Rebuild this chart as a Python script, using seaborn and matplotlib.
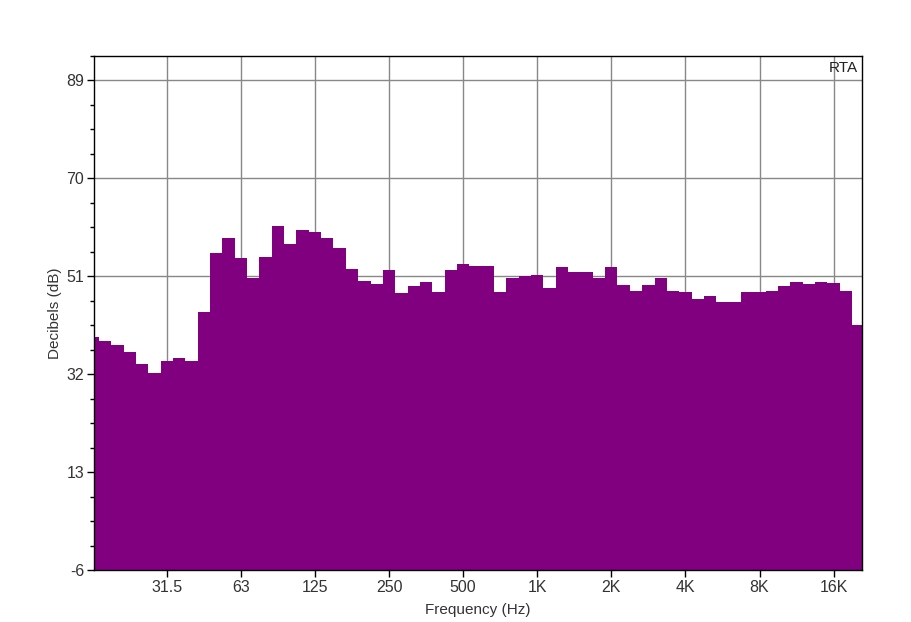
import numpy as np
import matplotlib
matplotlib.use("Agg")
import matplotlib.pyplot as plt
import seaborn as sns
from matplotlib.ticker import FixedLocator, NullLocator

# 1/6-octave bands, index 0 = 1 kHz, levels (dB)
band_index = list(range(-36, 27))
levels_db = [
    39.2, 38.5, 37.7, 36.2, 33.9, 32.3, 34.6, 35.2, 34.6, 44.0,
    55.5, 58.3, 54.5, 50.7, 54.8, 60.7, 57.2, 59.9, 59.6, 58.3,
    56.4, 52.3, 50.0, 49.4, 52.1, 47.7, 49.0, 49.9, 47.9, 52.1,
    53.3, 52.9, 52.9, 47.9, 50.6, 51.0, 51.3, 48.7, 52.8, 51.7,
    51.7, 50.7, 52.8, 49.2, 48.2, 49.2, 50.6, 48.2, 48.0, 46.5,
    47.1, 46.0, 46.0, 48.0, 48.0, 48.2, 49.0, 49.8, 49.4, 49.8,
    49.6, 48.2, 41.6,
]
tick_freqs = [31.25, 62.5, 125, 250, 500, 1000, 2000, 4000, 8000, 16000]
tick_labels = ["31.5", "63", "125", "250", "500", "1K", "2K", "4K", "8K", "16K"]
y_ticks = [-6, 13, 32, 51, 70, 89]

sns.set_theme(style="white")
plt.rcParams['font.family'] = ['Liberation Sans', 'DejaVu Sans']
plt.rcParams['axes.unicode_minus'] = False

fig = plt.figure(figsize=(9.12, 6.22), dpi=100)
ax = fig.add_axes([0.1031, 0.0836, 0.8417, 0.8269])

# band edges on a log2 axis
centers = 1000 * 2 ** (np.array(band_index) / 6)
lo = centers * 2 ** (-1 / 12)
hi = centers * 2 ** (1 / 12)
floor = -6
ax.bar(lo, np.array(levels_db) - floor, width=hi - lo, bottom=floor,
       align='edge', color='#800080', linewidth=0, zorder=2)

ax.set_xscale('log', base=2)
ax.set_xlim(15.83, 20800)
ax.set_ylim(-6, 93.75)

ax.xaxis.set_major_locator(FixedLocator(tick_freqs))
ax.set_xticklabels(tick_labels)
ax.xaxis.set_minor_locator(NullLocator())
ax.yaxis.set_major_locator(FixedLocator(y_ticks))
ax.yaxis.set_minor_locator(FixedLocator(np.arange(-6, 94, 4.75)))

ax.set_axisbelow(True)
ax.grid(True, which='major', color='#888888', linewidth=1)

ax.tick_params(axis='both', which='major', direction='out', length=5, width=1,
               color='black', labelsize=11.5, labelcolor='#333333',
               bottom=True, left=True, pad=2)
ax.tick_params(axis='y', which='minor', direction='out', length=3, width=1,
               color='black', left=True)
for sp in ax.spines.values():
    sp.set_color('black')
    sp.set_linewidth(1)

ax.set_xlabel("Frequency (Hz)", fontsize=11, color='#333333', labelpad=6)
ax.set_ylabel("Decibels (dB)", fontsize=11, color='#333333', labelpad=3)
ax.text(0.995, 0.99, "RTA", transform=ax.transAxes, ha='right', va='top',
        fontsize=11, color='#222222')

fig.savefig('out.png', dpi=100)
